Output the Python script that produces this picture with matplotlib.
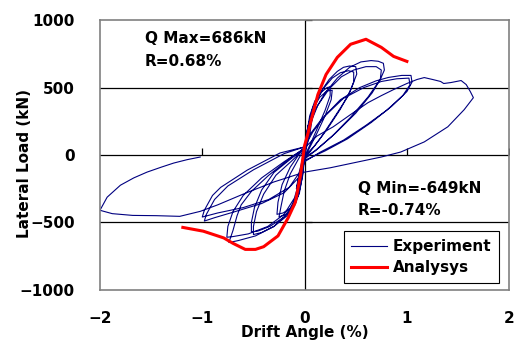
import matplotlib
matplotlib.use("Agg")
import matplotlib.pyplot as plt

plt.rcParams['font.family'] = ['DejaVu Sans']

# experiment load path, (drift angle %, lateral load kN), one list per cycle amplitude
start = [(0.0, 0), (0.05, 200), (0.08, 300), (0.05, 150), (0.0, 0),
         (-0.05, -150), (-0.08, -250), (-0.05, -120), (0.0, 30)]
cycle_025 = [(0.02, 150), (0.05, 290), (0.1, 400), (0.17, 470), (0.22, 500), (0.25, 505),
             (0.25, 440), (0.2, 330), (0.12, 190), (0.05, 70), (0.0, -10),
             (-0.02, -150), (-0.05, -280), (-0.1, -380), (-0.18, -440), (-0.25, -460),
             (-0.23, -380), (-0.2, -270), (-0.14, -140), (-0.06, -30), (0.0, 50),
             (0.03, 200), (0.08, 340), (0.15, 430), (0.22, 475), (0.27, 480),
             (0.26, 410), (0.2, 290), (0.12, 160), (0.04, 40), (0.0, -20),
             (-0.02, -160), (-0.06, -300), (-0.13, -390), (-0.21, -430), (-0.27, -440),
             (-0.26, -350), (-0.22, -220), (-0.14, -90), (-0.05, 10), (0.0, 60)]
cycle_050 = [(0.03, 200), (0.08, 350), (0.15, 460), (0.24, 560), (0.32, 620), (0.38, 650),
             (0.44, 660), (0.5, 655), (0.51, 600), (0.45, 480), (0.35, 340), (0.22, 190),
             (0.1, 70), (0.0, -10),
             (-0.03, -170), (-0.08, -330), (-0.17, -450), (-0.3, -530), (-0.42, -575),
             (-0.5, -590), (-0.5, -530), (-0.47, -420), (-0.4, -290), (-0.28, -150),
             (-0.12, -40), (0.0, 50),
             (0.04, 230), (0.1, 380), (0.18, 490), (0.27, 570), (0.35, 610), (0.43, 625),
             (0.48, 615), (0.48, 540), (0.42, 430), (0.3, 290), (0.16, 130), (0.05, 20),
             (0.0, -20),
             (-0.04, -190), (-0.1, -350), (-0.2, -460), (-0.34, -530), (-0.46, -565),
             (-0.52, -570), (-0.52, -500), (-0.49, -390), (-0.42, -260), (-0.3, -130),
             (-0.12, -20), (0.0, 50)]
cycle_075 = [(0.04, 200), (0.1, 330), (0.2, 460), (0.32, 570), (0.44, 650), (0.55, 690),
             (0.65, 700), (0.72, 695), (0.77, 680), (0.78, 630), (0.74, 560), (0.62, 430),
             (0.45, 280), (0.27, 140), (0.1, 30), (0.0, -20),
             (-0.03, -150), (-0.08, -300), (-0.16, -430), (-0.3, -530), (-0.48, -600),
             (-0.65, -635), (-0.74, -649), (-0.7, -560), (-0.66, -450), (-0.62, -370),
             (-0.52, -270), (-0.35, -150), (-0.15, -30), (0.0, 50),
             (0.05, 220), (0.13, 370), (0.24, 490), (0.36, 580), (0.48, 630), (0.6, 655),
             (0.7, 655), (0.75, 630), (0.74, 560), (0.66, 460), (0.5, 310), (0.3, 160),
             (0.12, 40), (0.0, -30),
             (-0.04, -170), (-0.1, -320), (-0.2, -440), (-0.36, -530), (-0.55, -585),
             (-0.7, -605), (-0.76, -610), (-0.75, -530), (-0.7, -420), (-0.6, -300),
             (-0.42, -170), (-0.2, -50), (0.0, 50)]
cycle_100 = [(0.05, 150), (0.16, 260), (0.35, 410), (0.54, 500), (0.7, 550), (0.82, 575),
             (0.95, 590), (1.04, 590), (1.05, 540), (1.0, 470), (0.85, 360), (0.65, 240),
             (0.42, 120), (0.2, 30), (0.0, -40),
             (-0.05, -130), (-0.15, -240), (-0.35, -330), (-0.6, -390), (-0.85, -430),
             (-1.0, -460), (-0.98, -410), (-0.9, -300), (-0.82, -240), (-0.56, -112),
             (-0.24, 15), (0.0, 60),
             (0.08, 170), (0.2, 290), (0.38, 420), (0.58, 500), (0.75, 545), (0.9, 565),
             (1.02, 570), (1.03, 520), (0.96, 440), (0.8, 330), (0.6, 220), (0.38, 110),
             (0.15, 20), (0.0, -50),
             (-0.06, -170), (-0.2, -280), (-0.42, -360), (-0.68, -420), (-0.88, -465),
             (-0.98, -490), (-0.96, -440), (-0.88, -330), (-0.75, -230), (-0.5, -110),
             (-0.2, 10), (0.0, 60)]
cycle_final = [(0.01, 60), (0.12, 140), (0.28, 209), (0.45, 300), (0.62, 388), (0.75, 440),
               (0.87, 485), (1.0, 530), (1.1, 560), (1.17, 574), (1.25, 560), (1.33, 545),
               (1.36, 530), (1.43, 537), (1.53, 552), (1.58, 522), (1.62, 470), (1.65, 425),
               (1.56, 336), (1.4, 209), (1.17, 97), (0.94, 22), (0.75, -15), (0.5, -55),
               (0.25, -95), (0.0, -127),
               (-0.3, -200), (-0.6, -290), (-0.85, -370), (-1.02, -418), (-1.22, -455),
               (-1.45, -450), (-1.68, -448), (-1.88, -435), (-2.0, -410),
               (-1.93, -313), (-1.8, -224), (-1.67, -170), (-1.54, -127), (-1.4, -90),
               (-1.28, -60), (-1.15, -35), (-1.02, -15)]

# analysis curve
ana_drift = [-1.19, -0.99, -0.79, -0.7, -0.58, -0.48, -0.4, -0.26, -0.16, -0.09, -0.04,
             -0.02, 0.0, 0.03, 0.06, 0.13, 0.21, 0.32, 0.45, 0.6, 0.75, 0.87, 1.0]
ana_load = [-537, -565, -615, -655, -700, -700, -680, -600, -465, -350, -150,
            -40, 70, 150, 246, 448, 597, 724, 821, 858, 798, 731, 694]

exp_path = start + cycle_025 + cycle_050 + cycle_075 + cycle_100 + cycle_final
exp_drift = [p[0] for p in exp_path]
exp_load = [p[1] for p in exp_path]

fig, ax = plt.subplots(figsize=(5.18, 3.41), dpi=100)
fig.subplots_adjust(left=0.193, right=0.983, bottom=0.150, top=0.941)

# excel style: black center axes and +-500 gridlines, grey frame
for yv in (500, -500, 0):
    ax.axhline(yv, color='black', lw=0.9, zorder=1)
ax.axvline(0, color='black', lw=0.9, zorder=1)
ax.plot([-1, 1, 2], [0, 0, 0], ls='none', marker=2, ms=5, mew=0.9, color='black', zorder=1)
ax.plot([0, 0, 0], [-500, 500, 1000], ls='none', marker=1, ms=5, mew=0.9, color='black', zorder=1)

ax.plot(exp_drift, exp_load, color='#000080', lw=0.8, label='Experiment', zorder=2)
ax.plot(ana_drift, ana_load, color='#ff0000', lw=2.2, label='Analysys', zorder=3)

ax.set_xlim(-2, 2)
ax.set_ylim(-1000, 1000)
ax.set_xticks([-2, -1, 0, 1, 2])
ax.set_yticks([-1000, -500, 0, 500, 1000])
ax.tick_params(length=0, labelsize=11)
ax.tick_params(axis='x', pad=15)
ax.tick_params(axis='y', pad=18)
for lab in ax.get_xticklabels() + ax.get_yticklabels():
    lab.set_fontweight('bold')
for sp in ax.spines.values():
    sp.set_color('#808080')
    sp.set_linewidth(1.2)

ax.set_xlabel('Drift Angle (%)', fontsize=11, fontweight='bold')
ax.xaxis.set_label_coords(0.5, -0.13)
ax.set_ylabel('Lateral Load (kN)', fontsize=11, fontweight='bold')
ax.yaxis.set_label_coords(-0.166, 0.47)

ax.text(0.11, 0.932, 'Q Max=686kN', transform=ax.transAxes, fontsize=11,
        fontweight='bold', va='center')
ax.text(0.11, 0.848, 'R=0.68%', transform=ax.transAxes, fontsize=11,
        fontweight='bold', va='center')
ax.text(0.63, 0.376, 'Q Min=-649kN', transform=ax.transAxes, fontsize=11,
        fontweight='bold', va='center')
ax.text(0.63, 0.293, 'R=-0.74%', transform=ax.transAxes, fontsize=11,
        fontweight='bold', va='center')

leg = ax.legend(loc='lower right', bbox_to_anchor=(0.975, 0.026), fancybox=False,
                framealpha=1, edgecolor='black', prop={'size': 11, 'weight': 'bold'},
                handlelength=2.3, handletextpad=0.4, borderpad=0.5, labelspacing=0.4,
                borderaxespad=0)
leg.get_frame().set_linewidth(0.8)

fig.savefig('out.png', dpi=100)
